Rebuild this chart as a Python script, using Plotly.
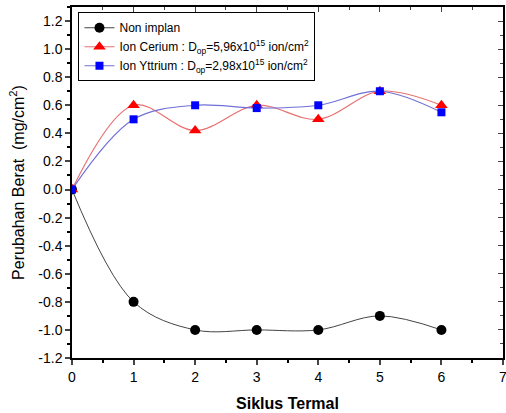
import plotly.graph_objects as go

siklus = [0, 1, 2, 3, 4, 5, 6]
non_implan = [0.0, -0.80, -1.00, -1.00, -1.00, -0.90, -1.00]
cerium = [0.0, 0.60, 0.42, 0.60, 0.50, 0.70, 0.60]
yttrium = [0.0, 0.50, 0.60, 0.58, 0.60, 0.70, 0.55]
x_ticks = [0, 1, 2, 3, 4, 5, 6, 7]
y_ticks = [1.2, 1.0, 0.8, 0.6, 0.4, 0.2, 0.0, -0.2, -0.4, -0.6, -0.8, -1.0, -1.2]

FONT = "Liberation Sans, Arial, sans-serif"

fig = go.Figure()
fig.add_trace(go.Scatter(
    x=siklus, y=non_implan, mode="lines+markers", name="Non implan",
    line=dict(color="#444444", width=1, shape="spline", smoothing=1.0),
    marker=dict(symbol="circle", size=10, color="black")))
fig.add_trace(go.Scatter(
    x=siklus, y=cerium, mode="lines+markers",
    name="Ion Cerium : D<sub>op</sub>=5,96x10<sup>15</sup> ion/cm<sup>2</sup>",
    line=dict(color="#e87070", width=1.2, shape="spline", smoothing=1.0),
    marker=dict(symbol="triangle-up", size=11, color="#ff0000")))
fig.add_trace(go.Scatter(
    x=siklus, y=yttrium, mode="lines+markers",
    name="Ion Yttrium : D<sub>op</sub>=2,98x10<sup>15</sup> ion/cm<sup>2</sup>",
    line=dict(color="#7070d8", width=1.2, shape="spline", smoothing=1.0),
    marker=dict(symbol="square", size=8, color="#0000ff")))

fig.update_layout(
    width=506, height=413,
    margin=dict(l=72, r=3, t=7, b=55),
    paper_bgcolor="white", plot_bgcolor="white",
    font=dict(family=FONT, size=12, color="black"),
    showlegend=True,
    legend=dict(x=0.015, y=0.985, xanchor="left", yanchor="top",
                bgcolor="white", bordercolor="black", borderwidth=1,
                font=dict(size=12, family=FONT), tracegroupgap=0,
                itemwidth=30),
    xaxis=dict(range=[0, 7], tickmode="array", tickvals=x_ticks,
               ticktext=[str(v) for v in x_ticks], automargin=False,
               ticklabeloverflow="allow",
               showgrid=False, zeroline=False, showline=True, linecolor="black",
               linewidth=1.5, mirror=True, ticks="outside", ticklen=5, tickwidth=1.5,
               minor=dict(dtick=0.5, ticks="outside", ticklen=3, tickcolor="black"),
               title=dict(text="<b>Siklus Termal</b>", font=dict(size=16, family=FONT), standoff=14),
               tickfont=dict(size=14)),
    yaxis=dict(range=[-1.2, 1.3], tickmode="array", tickvals=y_ticks,
               ticktext=["%.1f" % v for v in y_ticks], automargin=False,
               showgrid=False, zeroline=False, showline=True, linecolor="black",
               linewidth=1.5, mirror=True, ticks="outside", ticklen=5, tickwidth=1.5,
               minor=dict(dtick=0.1, ticks="outside", ticklen=3, tickcolor="black"),
               title=dict(text="Perubahan Berat  (mg/cm<sup>2</sup>)", font=dict(size=16, family=FONT), standoff=10),
               tickfont=dict(size=14)),
    xaxis2=dict(overlaying="x", side="top", matches="x", range=[0, 7], showticklabels=False,
                showgrid=False, zeroline=False, ticks="inside", ticklen=5, automargin=False,
                tickvals=x_ticks,
                minor=dict(dtick=0.5, ticks="inside", ticklen=3)),
    yaxis2=dict(overlaying="y", side="right", matches="y", range=[-1.2, 1.3], showticklabels=False,
                showgrid=False, zeroline=False, ticks="inside", ticklen=5, automargin=False,
                tickvals=y_ticks,
                minor=dict(dtick=0.1, ticks="inside", ticklen=3)),
)
# invisible trace to activate mirrored tick axes
fig.add_trace(go.Scatter(x=[0], y=[0], xaxis="x2", yaxis="y2", mode="markers",
                         marker=dict(opacity=0), showlegend=False, hoverinfo="skip"))

fig.write_html("out.html", config={"displayModeBar": False},
               post_script="document.body.style.margin='0px';document.body.style.overflow='hidden';")
